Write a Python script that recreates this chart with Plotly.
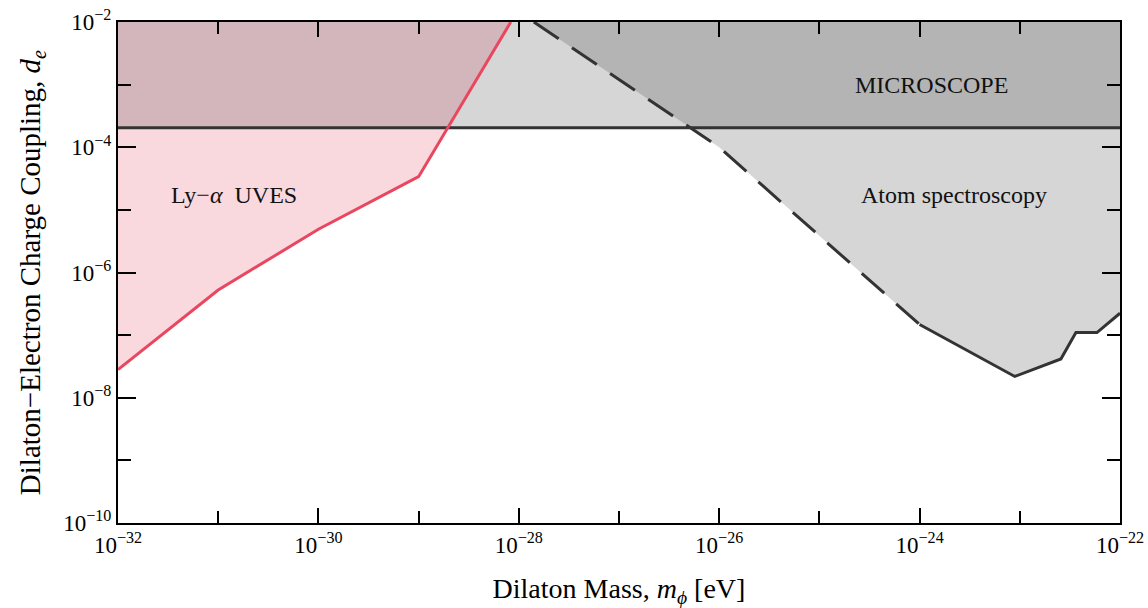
import numpy as np
import plotly.graph_objects as go

# ---- data (log10 values) ----
lya_logm = [-32.0, -31.0, -30.0, -29.0, -28.08]
lya_logd = [-7.55, -6.28, -5.31, -4.47, -2.0]

atom_logm = [-27.85, -26.0, -24.0, -23.05, -22.59, -22.44, -22.23, -22.0]
atom_logd = [-2.0, -4.0, -6.83, -7.66, -7.38, -6.96, -6.96, -6.65]
atom_dash_end = -24.0  # dashed up to here, solid afterwards

microscope_logd = -3.69

x_range = [-32, -22]
y_range = [-10, -2]
x_major = [-32, -30, -28, -26, -24, -22]
x_minor = [-31, -29, -27, -25, -23]
y_major = [-10, -8, -6, -4, -2]
y_minor = [-9, -7, -5, -3]

FONT = "Liberation Serif"
PINK = "#f9d8de"
BROWN = "#d3b6bb"
LGRAY = "#d6d6d6"
DGRAY = "#b4b4b4"
RED = "#e8475f"
DARK = "#333333"

P = lambda a: [10.0 ** v for v in a]

lm = np.array(lya_logm); ld = np.array(lya_logd)
am = np.array(atom_logm); ad = np.array(atom_logd)
ytop = y_range[1]

fig = go.Figure()

# Ly-alpha excluded region (pink)
fig.add_trace(go.Scatter(x=P(list(lm) + [x_range[0]]), y=P(list(ld) + [ytop]),
                         fill="toself", fillcolor=PINK, mode="none", hoverinfo="skip"))
# Atom spectroscopy excluded region
fig.add_trace(go.Scatter(x=P(list(am) + [x_range[1]]), y=P(list(ad) + [ytop]),
                         fill="toself", fillcolor=LGRAY, mode="none", hoverinfo="skip"))
# MICROSCOPE band
fig.add_trace(go.Scatter(x=P([x_range[0], x_range[1], x_range[1], x_range[0]]),
                         y=P([microscope_logd, microscope_logd, ytop, ytop]),
                         fill="toself", fillcolor=LGRAY, mode="none", hoverinfo="skip"))
# overlap of MICROSCOPE with Ly-alpha
xr = float(np.interp(microscope_logd, ld, lm))
keep = lm > xr
bx = [x_range[0], xr] + list(lm[keep]) + [x_range[0]]
by = [microscope_logd, microscope_logd] + list(ld[keep]) + [ytop]
fig.add_trace(go.Scatter(x=P(bx), y=P(by), fill="toself", fillcolor=BROWN,
                         mode="none", hoverinfo="skip"))
# overlap of MICROSCOPE with atom spectroscopy
mono = am <= atom_dash_end
xd = float(np.interp(microscope_logd, ad[mono][::-1], am[mono][::-1]))
keep2 = am < xd
dx_ = list(am[keep2]) + [xd, x_range[1], x_range[1]]
dy_ = list(ad[keep2]) + [microscope_logd, microscope_logd, ytop]
fig.add_trace(go.Scatter(x=P(dx_), y=P(dy_), fill="toself", fillcolor=DGRAY,
                         mode="none", hoverinfo="skip"))

# lines
fig.add_trace(go.Scatter(x=P(x_range), y=P([microscope_logd] * 2), mode="lines",
                         line=dict(color=DARK, width=3), hoverinfo="skip"))
fig.add_trace(go.Scatter(x=P(lm), y=P(ld), mode="lines",
                         line=dict(color=RED, width=3), hoverinfo="skip"))
dmask = am <= atom_dash_end
fig.add_trace(go.Scatter(x=P(am[dmask]), y=P(ad[dmask]), mode="lines",
                         line=dict(color=DARK, width=3, dash="30px,16px"), hoverinfo="skip"))
smask = am >= atom_dash_end
fig.add_trace(go.Scatter(x=P(am[smask]), y=P(ad[smask]), mode="lines",
                         line=dict(color=DARK, width=3), hoverinfo="skip"))

def sup(v):
    return "10<sup>\u2212%d</sup>" % (-v)

axis_common = dict(type="log", showgrid=False, zeroline=False, showline=True,
                   linecolor="black", linewidth=2, mirror="ticks", ticks="inside",
                   tickcolor="black", tickwidth=2, automargin=False,
                   ticklabeloverflow="allow",
                   tickfont=dict(family=FONT, size=23, color="black"))

fig.update_xaxes(range=x_range, tickmode="array", tickvals=P(x_major),
                 ticktext=[sup(v) for v in x_major], ticklen=15,
                 minor=dict(tickvals=P(x_minor), ticklen=12, ticks="inside",
                            tickcolor="black", tickwidth=2),
                 title=dict(text="Dilaton Mass, <i>m</i><sub><i>\u03d5</i></sub> [eV]",
                            font=dict(family=FONT, size=28, color="black"), standoff=22),
                 **axis_common)
fig.update_yaxes(range=y_range, tickmode="array", tickvals=P(y_major),
                 ticktext=[sup(v) for v in y_major], ticklen=18,
                 minor=dict(tickvals=P(y_minor), ticklen=13, ticks="inside",
                            tickcolor="black", tickwidth=2),
                 title=dict(text="Dilaton\u2212Electron Charge Coupling, <i>d</i><sub><i>e</i></sub>",
                            font=dict(family=FONT, size=29, color="black"), standoff=14),
                 **axis_common)

ann_font = dict(family=FONT, size=24, color="#111111")
fig.add_annotation(x=-23.88, y=-3.0, xref="x", yref="y", text="MICROSCOPE",
                   showarrow=False, font=ann_font)
fig.add_annotation(x=-23.66, y=-4.76, xref="x", yref="y", text="Atom spectroscopy",
                   showarrow=False, font=ann_font)
fig.add_annotation(x=-30.84, y=-4.76, xref="x", yref="y",
                   text="Ly\u2212<i>\u03b1</i>\u00a0\u00a0UVES", showarrow=False, font=ann_font)

fig.update_layout(width=1148, height=608, showlegend=False,
                  plot_bgcolor="white", paper_bgcolor="white",
                  margin=dict(l=118, r=28, t=22, b=85),
                  font=dict(family=FONT, color="black"))

# remove the default 8px body margin so the figure fills the window exactly
fig.write_html("out.html", config={"displayModeBar": False},
               post_script="document.body.style.margin='0';")
